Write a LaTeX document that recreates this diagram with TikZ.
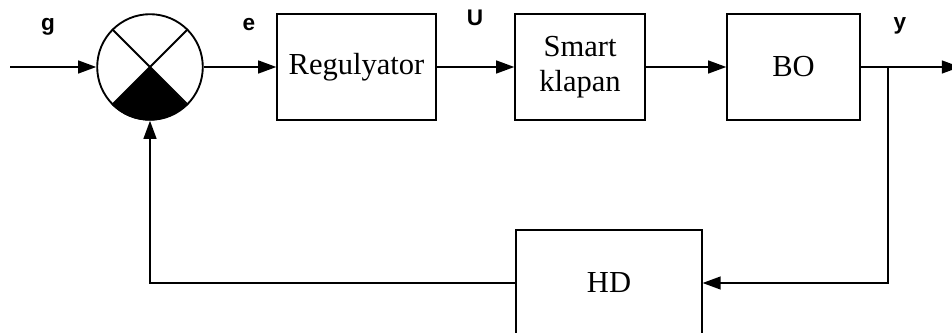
\documentclass[tikz,border=0pt]{standalone}
\usepackage{fontspec}
\setmainfont{Liberation Serif}
\newfontfamily\lblfont{Liberation Sans}
\usetikzlibrary{arrows.meta}
\tikzset{
  blk/.style={draw, line width=1.4pt, minimum height=79.5pt, font=\fontsize{23}{26}\selectfont, align=center, inner sep=0pt},
  sig/.style={-{Triangle[length=4.8mm,width=3.4mm]}, line width=1.4pt},
  lbl/.style={font=\lblfont\bfseries\fontsize{17}{19}\selectfont, inner sep=0pt}
}
\begin{document}
\begin{tikzpicture}[x=0.02646cm, y=-0.02646cm]
  \clip (0,0) rectangle (952,333);
  % --- Blocks ---
  \node[draw, circle, line width=1.4pt, minimum size=79.5pt, inner sep=0pt] (sum) at (150,67) {};
  \node[blk, minimum width=119.25pt] (reg) at (356.5,67) {Regulyator};
  \node[blk, minimum width=97.5pt] (sk) at (580,67) {Smart\\klapan};
  \node[blk, minimum width=99.75pt] (bo) at (793.5,67) {BO};
  \node[blk, minimum width=139.5pt] (hd) at (609,283) {HD};
  % --- Comparator ---
  \fill (sum.center) -- (sum.225) arc[start angle=225, end angle=315, radius=39.75pt] -- cycle;
  \draw[line width=1.4pt] (sum.45) -- (sum.225) (sum.135) -- (sum.315);
  % --- Signals ---
  \coordinate (in) at (10,67);
  \coordinate (br) at (888,67);
  \coordinate (out) at (960,67);
  \draw[sig] (in) -- (sum.west);
  \draw[sig] (sum.east) -- (reg.west);
  \draw[sig] (reg.east) -- (sk.west);
  \draw[sig] (sk.east) -- (bo.west);
  \draw[sig] (bo.east) -- (out);
  \draw[sig] (br) |- (hd.east);
  \draw[sig] (hd.west) -| (sum.south);
  % --- Labels ---
  \node[lbl] (g) at (48,27) {g};
  \node[lbl] (e) at (249,25) {e};
  \node[lbl] (u) at (475,18) {U};
  \node[lbl] (y) at (900,26) {y};
\end{tikzpicture}
\end{document}
